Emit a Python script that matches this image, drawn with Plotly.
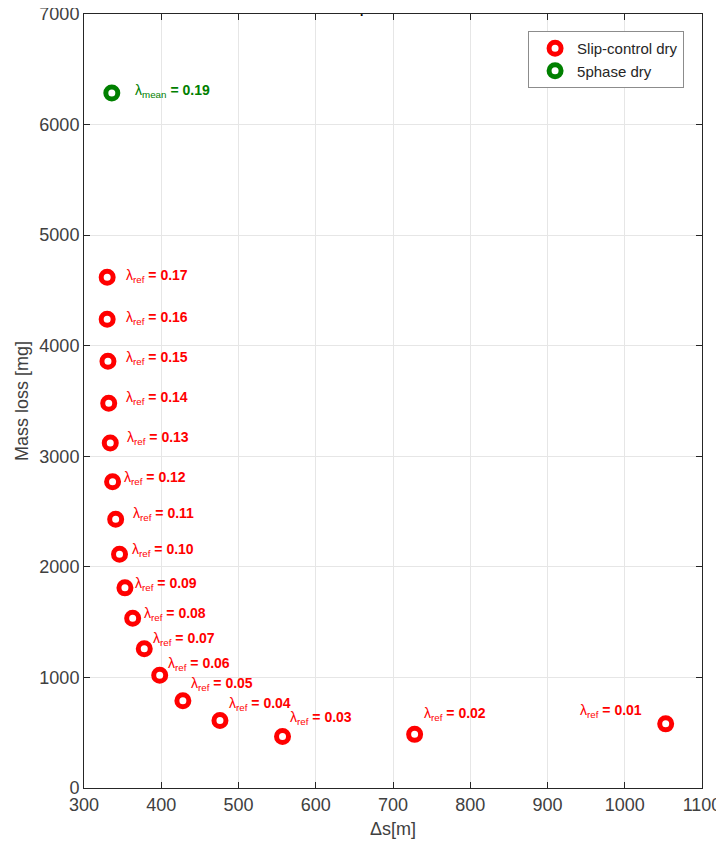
import plotly.graph_objects as go

# Data
lam_ref = ["0.17", "0.16", "0.15", "0.14", "0.13", "0.12", "0.11", "0.10", "0.09",
           "0.08", "0.07", "0.06", "0.05", "0.04", "0.03", "0.02", "0.01"]
slip_ds = [330, 330, 331, 332, 334, 337, 341, 346, 353, 363, 378, 398, 428, 476, 557, 728, 1053]
slip_mass = [4620, 4240, 3860, 3480, 3120, 2770, 2430, 2115, 1810, 1535, 1260, 1020, 790, 610, 465, 485, 580]
phase_ds = [336]
phase_mass = [6285]
lam_mean = ["0.19"]

# label offsets in pixels (style only)
dx = [17, 17, 16, 15, 15, 9, 15, 10, 8, 9, 7, 6, 6, 7, 5, 7, -22]
dy = [1, 1, 3, 5, 5, 4, 5, 4, 4, 4, 10, 11, 17, 17, 19, 20, 13]

RED = "#ff0000"
GREEN = "#008000"

fig = go.Figure()
fig.add_trace(go.Scatter(
    x=slip_ds, y=slip_mass, mode="markers", name="Slip-control dry",
    marker=dict(symbol="circle", size=12, color="white", line=dict(color=RED, width=5)),
))
fig.add_trace(go.Scatter(
    x=phase_ds, y=phase_mass, mode="markers", name="5phase dry",
    marker=dict(symbol="circle", size=12, color="white", line=dict(color=GREEN, width=5)),
))

for i, lab in enumerate(lam_ref):
    fig.add_annotation(
        x=slip_ds[i], y=slip_mass[i],
        text="λ<sub>ref</sub> <b>= " + lab + "</b>",
        showarrow=False,
        xanchor="left" if dx[i] > 0 else "right",
        yanchor="middle",
        xshift=dx[i], yshift=dy[i],
        font=dict(family="Arial", size=14, color=RED),
    )
fig.add_annotation(
    x=phase_ds[0], y=phase_mass[0],
    text="λ<sub>mean</sub> <b>= " + lam_mean[0] + "</b>",
    showarrow=False, xanchor="left", yanchor="middle",
    xshift=21, yshift=2,
    font=dict(family="Arial", size=14, color=GREEN),
)

axis_common = dict(
    showline=True, linecolor="#262626", linewidth=1, mirror="ticks",
    ticks="inside", ticklen=6, tickcolor="#262626",
    showgrid=True, gridcolor="#e6e6e6", gridwidth=1,
    zeroline=False, automargin=False, ticklabeloverflow="allow",
    tickfont=dict(family="Arial", size=18, color="#404040"),
)

# The page body adds an 8px margin, so the figure is sized 8px smaller.
fig.update_layout(
    width=716, height=842,
    margin=dict(l=76, r=22, t=6, b=62),
    paper_bgcolor="white", plot_bgcolor="white",
    title=dict(text="<b>.</b>", x=0.494, xanchor="center", y=1.0, yanchor="top",
               pad=dict(t=0, b=0), automargin=False,
               font=dict(family="Arial", size=12, color="black")),
    xaxis=dict(range=[300, 1100], dtick=100, title=dict(text="Δs[m]", standoff=8,
               font=dict(family="Arial", size=18, color="#404040")), **axis_common),
    yaxis=dict(range=[0, 7000], dtick=1000, title=dict(text="Mass loss [mg]", standoff=6,
               font=dict(family="Arial", size=18, color="#404040")), **axis_common),
    legend=dict(x=0.971, y=0.978, xanchor="right", yanchor="top",
                bgcolor="white", bordercolor="#8c8c8c", borderwidth=1,
                font=dict(family="Arial", size=15, color="#262626"),
                tracegroupgap=0, itemwidth=34, indentation=4),
    showlegend=True,
)

fig.write_html("out.html")
